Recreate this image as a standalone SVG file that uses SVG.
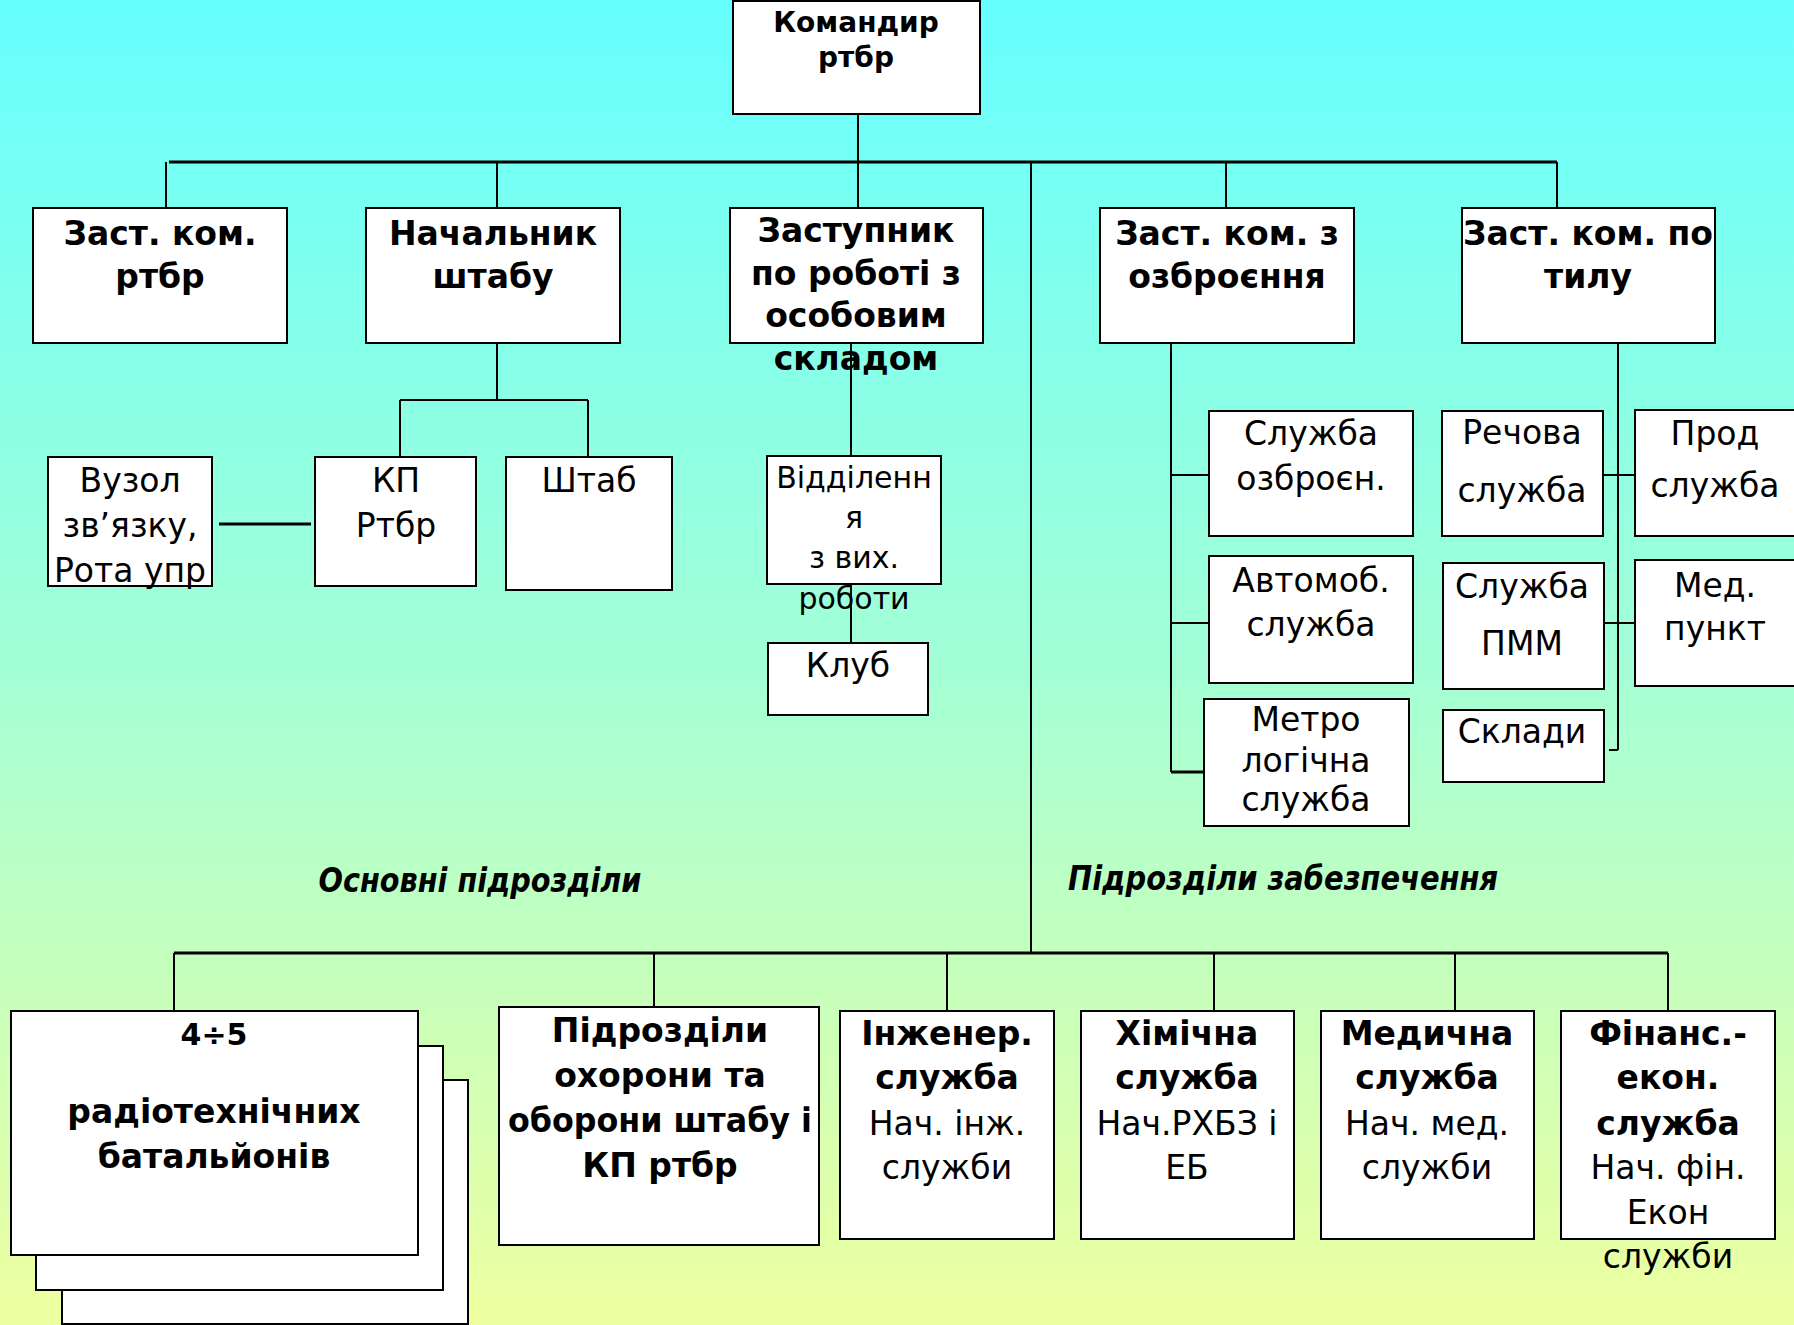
<svg xmlns="http://www.w3.org/2000/svg" width="1794" height="1325" viewBox="0 0 1794 1325">
<defs>
<linearGradient id="bg" x1="0" y1="0" x2="0" y2="1">
<stop offset="0" stop-color="#66FFFF"/>
<stop offset="0.5" stop-color="#A3FFD6"/>
<stop offset="1" stop-color="#EEFFA0"/>
</linearGradient>
<style>
.box{fill:#fff;stroke:#000;stroke-width:2}
.ln{stroke:#000;stroke-width:2;fill:none}
.bus{stroke:#000;stroke-width:3;fill:none}
text{font-family:"DejaVu Sans","Liberation Sans",sans-serif;fill:#000;text-anchor:middle}
.b{font-weight:bold;font-size:33px}
.r{font-size:33px}
.s{font-size:30px}
.lab{font-weight:bold;font-style:italic;font-size:33px}
</style>
</defs>
<rect x="0" y="0" width="1794" height="1325" fill="url(#bg)"/>

<g id="connectors">
<line class="ln" x1="858" y1="114" x2="858" y2="208"/>
<line class="bus" x1="169" y1="162" x2="1557" y2="162"/>
<line class="ln" x1="166" y1="162" x2="166" y2="208"/>
<line class="ln" x1="497" y1="162" x2="497" y2="208"/>
<line class="ln" x1="1031" y1="162" x2="1031" y2="953"/>
<line class="ln" x1="1226" y1="162" x2="1226" y2="208"/>
<line class="ln" x1="1557" y1="162" x2="1557" y2="208"/>
<line class="ln" x1="497" y1="343" x2="497" y2="400"/>
<line class="ln" x1="400" y1="400" x2="588" y2="400"/>
<line class="ln" x1="400" y1="400" x2="400" y2="457"/>
<line class="ln" x1="588" y1="400" x2="588" y2="457"/>
<line class="bus" x1="219" y1="524" x2="311" y2="524"/>
<line class="ln" x1="851" y1="343" x2="851" y2="456"/>
<line class="ln" x1="851" y1="584" x2="851" y2="643"/>
<line class="ln" x1="1171" y1="343" x2="1171" y2="772"/>
<line class="ln" x1="1171" y1="475" x2="1209" y2="475"/>
<line class="ln" x1="1171" y1="623" x2="1209" y2="623"/>
<line class="bus" x1="1171" y1="772" x2="1205" y2="772"/>
<line class="ln" x1="1618" y1="343" x2="1618" y2="750"/>
<line class="ln" x1="1609" y1="750" x2="1618" y2="750"/>
<line class="ln" x1="1603" y1="475" x2="1635" y2="475"/>
<line class="ln" x1="1604" y1="623" x2="1639" y2="623"/>
<line class="bus" x1="174" y1="953" x2="1668" y2="953"/>
<line class="ln" x1="174" y1="953" x2="174" y2="1011"/>
<line class="ln" x1="654" y1="953" x2="654" y2="1007"/>
<line class="ln" x1="947" y1="953" x2="947" y2="1011"/>
<line class="ln" x1="1214" y1="953" x2="1214" y2="1011"/>
<line class="ln" x1="1455" y1="953" x2="1455" y2="1011"/>
<line class="ln" x1="1668" y1="953" x2="1668" y2="1011"/>
</g>

<g id="commander">
<rect class="box" x="733" y="1" width="247" height="113"/>
<text class="b" style="font-size:28px" x="856" y="32">Командир</text>
<text class="b" style="font-size:28px" x="856" y="67">ртбр</text>
</g>

<g id="zast-kom">
<rect class="box" x="33" y="208" width="254" height="135"/>
<text class="b" x="160" y="245">Заст. ком.</text>
<text class="b" x="160" y="288">ртбр</text>
</g>
<g id="nach-shtabu">
<rect class="box" x="366" y="208" width="254" height="135"/>
<text class="b" x="493" y="245">Начальник</text>
<text class="b" x="493" y="288">штабу</text>
</g>
<g id="zastupnyk">
<rect class="box" x="730" y="208" width="253" height="135"/>
<text class="b" x="856" y="242">Заступник</text>
<text class="b" x="856" y="285">по роботі з</text>
<text class="b" x="856" y="327">особовим</text>
<text class="b" x="856" y="370">складом</text>
</g>
<g id="ozbroennia">
<rect class="box" x="1100" y="208" width="254" height="135"/>
<text class="b" x="1227" y="245">Заст. ком. з</text>
<text class="b" x="1227" y="288">озброєння</text>
</g>
<g id="tyl">
<rect class="box" x="1462" y="208" width="253" height="135"/>
<text class="b" x="1588" y="245">Заст. ком. по</text>
<text class="b" x="1588" y="288">тилу</text>
</g>

<g id="vuzol">
<rect class="box" x="48" y="457" width="164" height="129"/>
<text class="r" x="130" y="492">Вузол</text>
<text class="r" x="130" y="537">зв’язку,</text>
<text class="r" x="130" y="582">Рота упр</text>
</g>
<g id="kp">
<rect class="box" x="315" y="457" width="161" height="129"/>
<text class="r" x="396" y="492">КП</text>
<text class="r" x="396" y="537">Ртбр</text>
</g>
<g id="shtab">
<rect class="box" x="506" y="457" width="166" height="133"/>
<text class="r" x="589" y="492">Штаб</text>
</g>
<g id="viddilennia">
<rect class="box" x="767" y="456" width="174" height="128"/>
<text class="s" x="854" y="488">Відділенн</text>
<text class="s" x="854" y="528">я</text>
<text class="s" x="854" y="568">з вих.</text>
<text class="s" x="854" y="609">роботи</text>
</g>
<g id="klub">
<rect class="box" x="768" y="643" width="160" height="72"/>
<text class="r" x="848" y="677">Клуб</text>
</g>

<g id="sl-ozbr">
<rect class="box" x="1209" y="411" width="204" height="125"/>
<text class="r" x="1311" y="445">Служба</text>
<text class="r" x="1311" y="490">озброєн.</text>
</g>
<g id="avto">
<rect class="box" x="1209" y="556" width="204" height="127"/>
<text class="r" x="1311" y="592">Автомоб.</text>
<text class="r" x="1311" y="636">служба</text>
</g>
<g id="metro">
<rect class="box" x="1204" y="699" width="205" height="127"/>
<text class="r" x="1306" y="731">Метро</text>
<text class="r" x="1306" y="772">логічна</text>
<text class="r" x="1306" y="811">служба</text>
</g>
<g id="rechova">
<rect class="box" x="1442" y="411" width="161" height="125"/>
<text class="r" x="1522" y="444">Речова</text>
<text class="r" x="1522" y="502">служба</text>
</g>
<g id="pmm">
<rect class="box" x="1443" y="563" width="161" height="126"/>
<text class="r" x="1522" y="598">Служба</text>
<text class="r" x="1522" y="655">ПММ</text>
</g>
<g id="sklady">
<rect class="box" x="1443" y="710" width="161" height="72"/>
<text class="r" x="1522" y="743">Склади</text>
</g>
<g id="prod">
<rect class="box" x="1635" y="410" width="170" height="126"/>
<text class="r" x="1715" y="445">Прод</text>
<text class="r" x="1715" y="497">служба</text>
</g>
<g id="med-punkt">
<rect class="box" x="1635" y="560" width="170" height="126"/>
<text class="r" x="1715" y="597">Мед.</text>
<text class="r" x="1715" y="640">пункт</text>
</g>

<text class="lab" x="480" y="892" textLength="323" lengthAdjust="spacingAndGlyphs">Основні підрозділи</text>
<text class="lab" x="1283" y="890" textLength="430" lengthAdjust="spacingAndGlyphs">Підрозділи забезпечення</text>

<g id="batalion">
<rect class="box" x="62" y="1080" width="406" height="244"/>
<rect class="box" x="36" y="1046" width="407" height="244"/>
<rect class="box" x="11" y="1011" width="407" height="244"/>
<text class="b" style="font-size:30px" x="214" y="1045">4÷5</text>
<text class="b" x="214" y="1123">радіотехнічних</text>
<text class="b" x="214" y="1168">батальйонів</text>
</g>
<g id="okhorona">
<rect class="box" x="499" y="1007" width="320" height="238"/>
<text class="b" x="660" y="1042">Підрозділи</text>
<text class="b" x="660" y="1087">охорони та</text>
<text class="b" x="660" y="1132" textLength="304" lengthAdjust="spacingAndGlyphs">оборони штабу і</text>
<text class="b" x="660" y="1177">КП ртбр</text>
</g>
<g id="inzh">
<rect class="box" x="840" y="1011" width="214" height="228"/>
<text class="b" x="947" y="1045">Інженер.</text>
<text class="b" x="947" y="1089">служба</text>
<text class="r" x="947" y="1135">Нач. інж.</text>
<text class="r" x="947" y="1179">служби</text>
</g>
<g id="khim">
<rect class="box" x="1081" y="1011" width="213" height="228"/>
<text class="b" x="1187" y="1045">Хімічна</text>
<text class="b" x="1187" y="1089">служба</text>
<text class="r" x="1187" y="1135">Нач.РХБЗ і</text>
<text class="r" x="1187" y="1179">ЕБ</text>
</g>
<g id="med">
<rect class="box" x="1321" y="1011" width="213" height="228"/>
<text class="b" x="1427" y="1045">Медична</text>
<text class="b" x="1427" y="1089">служба</text>
<text class="r" x="1427" y="1135">Нач. мед.</text>
<text class="r" x="1427" y="1179">служби</text>
</g>
<g id="fin">
<rect class="box" x="1561" y="1011" width="214" height="228"/>
<text class="b" x="1668" y="1045">Фінанс.-</text>
<text class="b" x="1668" y="1089">екон.</text>
<text class="b" x="1668" y="1135">служба</text>
<text class="r" x="1668" y="1179">Нач. фін.</text>
<text class="r" x="1668" y="1224">Екон</text>
<text class="r" x="1668" y="1268">служби</text>
</g>
</svg>
